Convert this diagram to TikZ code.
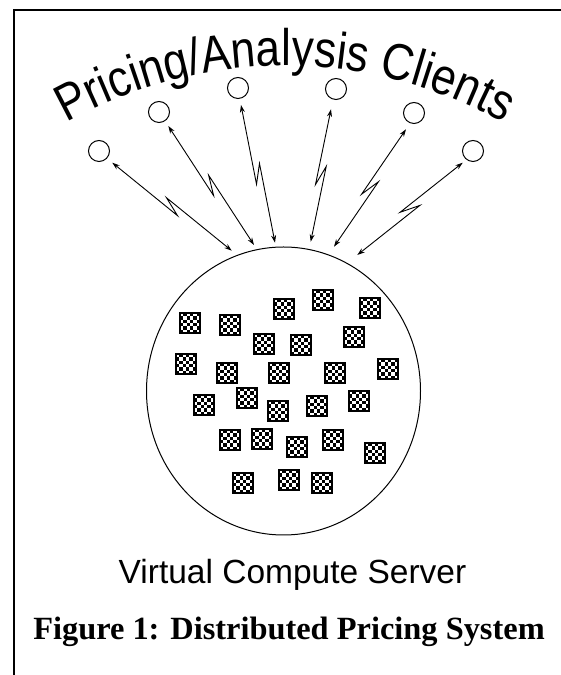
\documentclass[tikz,border=0pt]{standalone}
\usepackage{fontspec}
\setmainfont{Liberation Sans}
\newfontfamily\capfont{Liberation Serif}
\usetikzlibrary{arrows.meta,calc,shapes.geometric}
\newcommand\titlefont{\fontsize{44pt}{44pt}\selectfont}
\tikzset{
  frameline/.style={line width=1.6pt},
  client/.style={circle,draw,line width=1pt,minimum size=21pt,inner sep=0pt},
  server/.style={ellipse,draw,line width=1pt,minimum width=274pt,minimum height=288pt,inner sep=0pt},
  link/.style={{Stealth[length=7.5pt,width=5pt]}-{Stealth[length=7.5pt,width=5pt]},line width=0.9pt},
  titlechar/.style={font=\titlefont,anchor=base,inner sep=0pt,outer sep=0pt,transform shape},
  chk/.pic={
    \fill[white] (-10,-10) rectangle (10,10);
    \foreach \i in {0,...,5}{\foreach \j in {0,2,4}{
      \fill[black] ({-10+(\j+mod(\i,2))*20/6},{-10+\i*20/6}) rectangle ++(20/6,20/6);}}
    \draw[line width=1.1pt] (-10,-10) rectangle (10,10);
  }
}
\begin{document}
\begin{tikzpicture}[x=1pt,y=1pt]
\useasboundingbox (0,0) rectangle (561,675);
% frame
\draw[frameline] (14,0) -- (14,665) -- (561,665);
% title along arc (Arial/Liberation Sans advance widths in em)
\coordinate (tc) at (285,161);
\def\R{448}
\def\fs{44}
\def\titlechars{P/0.667,r/0.333,i/0.222,c/0.5,i/0.222,n/0.556,g/0.556,{\slash}/0.278,%
A/0.667,n/0.556,a/0.556,l/0.222,y/0.5,s/0.5,i/0.222,s/0.5,{\ }/0.278,%
C/0.722,l/0.222,i/0.222,e/0.556,n/0.556,t/0.278,s/0.5}
\pgfmathsetmacro\startang{90+(10.391*\fs/2)/\R*180/pi}
\gdef\cum{0}
\foreach \c/\w [count=\n] in \titlechars {%
  \pgfmathsetmacro\ang{\startang-(\cum+\w*\fs/2)/\R*180/pi}%
  \node[titlechar,rotate=\ang-90,yscale=1.17] (t\n) at ($(tc)+(\ang:\R)$) {\c};
  \pgfmathsetmacro\newcum{\cum+\w*\fs}\xdef\cum{\newcum}}
% server
\node[server] (srv) at (283.5,284) {};
% clients
\node[client] (c1) at (99,524) {};
\node[client] (c2) at (159,563) {};
\node[client] (c3) at (238,587) {};
\node[client] (c4) at (336,586) {};
\node[client] (c5) at (414,562) {};
\node[client] (c6) at (473,524) {};
% arrow ends
\coordinate (s1) at (112.3,512.3); \coordinate (e1) at (231.7,424.3);
\coordinate (s2) at (168.3,549);   \coordinate (e2) at (254,430);
\coordinate (s3) at (241,570);     \coordinate (e3) at (275,432.3);
\coordinate (s4) at (331,565.7);   \coordinate (e4) at (310.7,433.3);
\coordinate (s5) at (406,545.7);   \coordinate (e5) at (334,428.3);
\coordinate (s6) at (462.7,512.3); \coordinate (e6) at (357.3,420);
\foreach \k in {1,...,6}{
  \coordinate (m\k) at ($(s\k)!0.5!(e\k)$);
  \draw[link] (s\k) -- ($(m\k)!10.5pt!-22:(e\k)$) -- ($(m\k)!10.5pt!-22:(s\k)$) -- (e\k);
}
% processors
\foreach \p in {(284,366),(323,375),(370,367),(190,352),(230,350),(264,331),(301,330),(354,338),
  (186,311),(227,302),(279,302),(335,302),(388,306),(204,270),(247,277),(278,264),(317,269),(359,274),
  (230,235),(262,236),(297,228),(333,235),(375,222),(243,192),(289,195),(322,192)}
  \pic at \p {chk};
% texts
\node[anchor=base,font=\fontsize{33.5pt}{40pt}\selectfont] (vcs) at (292.5,91.7) {Virtual Compute Server};
\node[anchor=base,font=\capfont\bfseries\fontsize{32.4pt}{38pt}\selectfont] (cap) at (289,35) {Figure 1: Distributed Pricing System};
\end{tikzpicture}
\end{document}
